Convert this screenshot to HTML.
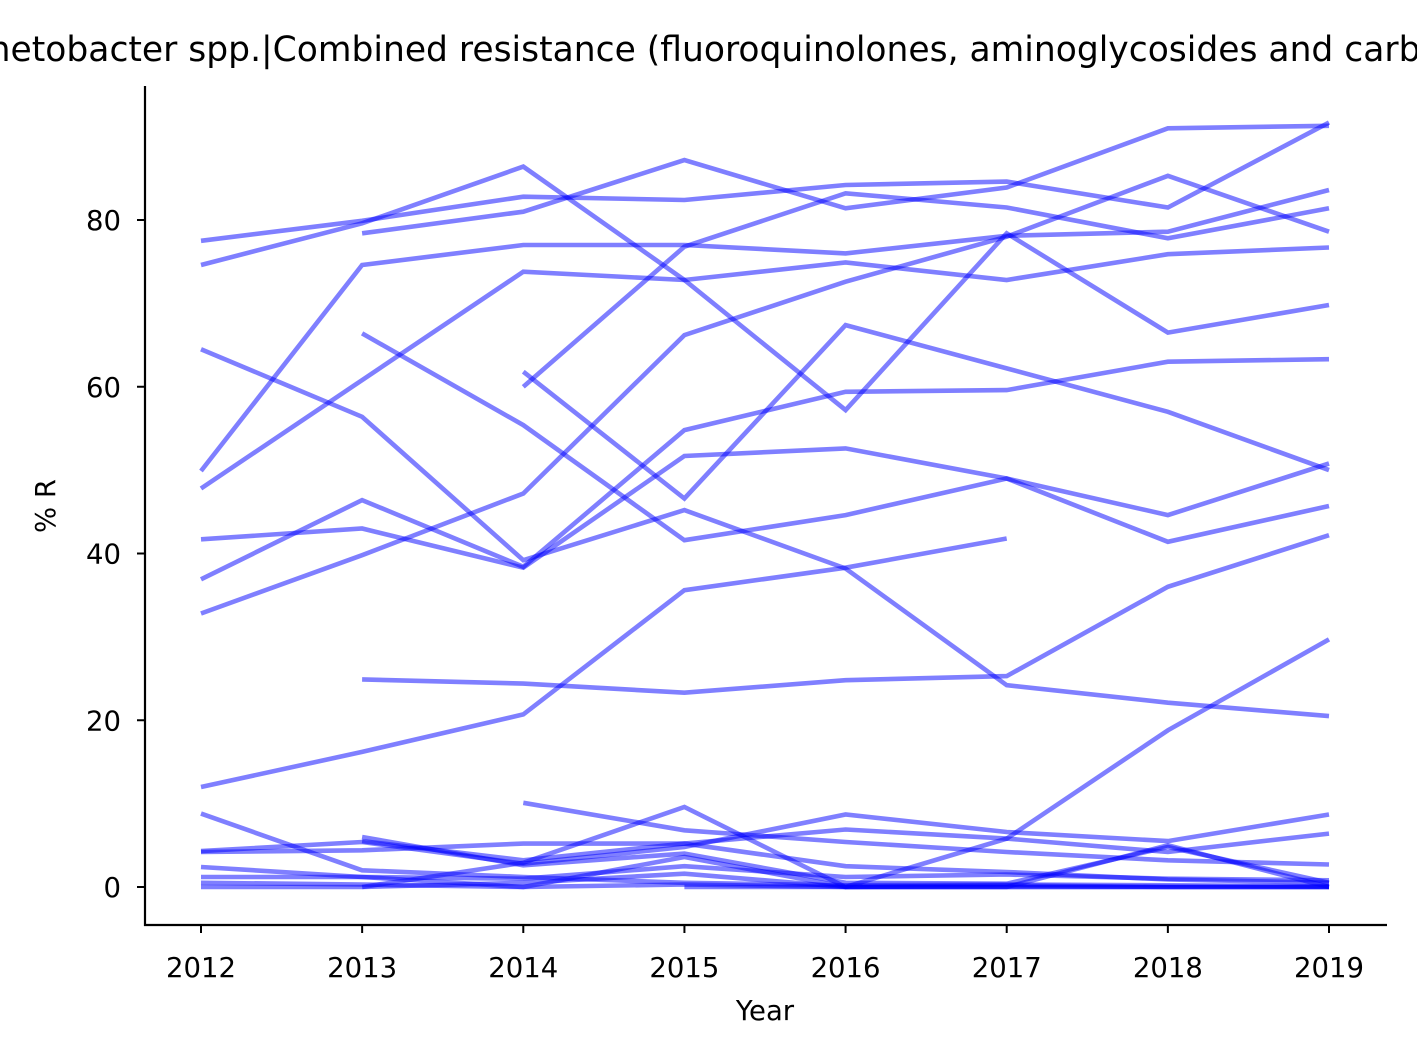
<!DOCTYPE html>
<html><head><meta charset="utf-8"><style>
html,body{margin:0;padding:0;background:#fff;width:1417px;height:1062px;overflow:hidden}
text{font-family:"DejaVu Sans","Liberation Sans",sans-serif;fill:#000}
</style></head><body>
<svg id="chart" width="1417" height="1062" viewBox="0 0 1417 1062" xmlns="http://www.w3.org/2000/svg">
<text x="765" y="61" font-size="34.5" text-anchor="middle">Acinetobacter spp.|Combined resistance (fluoroquinolones, aminoglycosides and carbapenems)</text>
<g id="lines"></g>
<g id="axes"></g>
</svg>
<script>
const years = [2012,2013,2014,2015,2016,2017,2018,2019];
const yTicks = [0,20,40,60,80];
const s1 = [77.5,79.9,82.8,82.4,84.2,84.6,81.5,91.7];
const s2 = [74.6,79.6,86.4,72.8,57.2,78.4,66.5,69.8];
const s3 = [null,78.4,81.0,87.2,81.4,83.9,91.0,91.3];
const s4 = [49.9,74.6,77.0,77.0,76.0,78.1,78.6,83.6];
const s5 = [47.8,60.8,73.8,72.8,74.9,72.8,75.9,76.7];
const s6 = [null,null,60.0,76.8,83.2,81.5,77.8,81.4];
const s7 = [32.8,39.8,47.2,66.2,72.6,78.0,85.3,78.6];
const s8 = [64.5,56.4,39.2,45.2,38.2,24.2,22.1,20.5];
const s9 = [null,66.4,55.4,41.6,44.6,49.0,41.4,45.7];
const s10 = [41.7,43.0,38.3,51.7,52.6,49.0,44.6,50.8];
const s11 = [36.9,46.4,38.4,54.8,59.4,59.6,63.0,63.3];
const s12 = [null,null,61.8,46.6,67.4,62.2,57.0,50.0];
const s13 = [12.0,16.2,20.7,35.6,38.3,41.8,null,null];
const s14 = [null,24.9,24.4,23.3,24.8,25.3,36.0,42.2];
const s15 = [0.5,0.3,0.0,0.3,0.0,5.8,18.8,29.7];
const s16 = [8.8,2.0,1.2,0.5,0.2,0.3,0.2,0.1];
const s17 = [null,null,10.1,6.8,5.4,4.2,3.2,2.7];
const s18 = [null,0.0,2.9,9.6,0.0,0.0,0.0,0.0];
const s19 = [4.3,5.4,2.8,4.8,8.7,6.6,5.5,8.7];
const s20 = [4.2,4.4,5.2,5.2,6.9,5.8,4.2,6.4];
const s21 = [null,6.0,2.6,4.0,0.5,0.4,4.8,0.5];
const s22 = [2.4,1.2,0.0,3.6,0.0,0.0,5.0,0.0];
const s23 = [1.2,1.2,1.0,2.5,1.2,1.5,1.0,0.8];
const s24 = [0.0,0.0,0.5,1.6,0.0,0.2,0.0,0.0];
const s25 = [null,null,null,0.0,0.0,0.0,0.0,0.0];
const s26 = [null,5.5,3.2,5.2,2.5,1.8,0.9,0.5];
const seriesList = [s1,s2,s3,s4,s5,s6,s7,s8,s9,s10,s11,s12,s13,s14,s15,s16,s17,s18,s19,s20,s21,s22,s23,s24,s25,s26];

const NS = "http://www.w3.org/2000/svg";
const X0 = 201, X1 = 1329, Y0 = 887, YPER = 8.3375;
function xScale(yr){ return X0 + (yr - years[0]) * (X1 - X0) / (years[years.length-1] - years[0]); }
function yScale(v){ return Y0 - v * YPER; }

const gL = document.getElementById('lines');
seriesList.forEach((s, i) => {
  let d = '', pen = false;
  s.forEach((v, j) => {
    if (v === null) { pen = false; return; }
    d += (pen ? 'L' : 'M') + xScale(years[j]).toFixed(1) + ' ' + yScale(v).toFixed(1) + ' ';
    pen = true;
  });
  const p = document.createElementNS(NS, 'path');
  p.setAttribute('d', d);
  p.setAttribute('fill', 'none');
  p.setAttribute('stroke', 'rgba(0,0,255,0.5)');
  p.setAttribute('stroke-width', '4.6');
  p.setAttribute('stroke-linejoin', 'miter');
  
  
  gL.appendChild(p);
});

const gA = document.getElementById('axes');
function mk(tag, attrs, text){
  const e = document.createElementNS(NS, tag);
  for (const k in attrs) e.setAttribute(k, attrs[k]);
  if (text !== undefined) e.textContent = text;
  gA.appendChild(e);
  return e;
}
let e;
e = mk('line', {x1:145, y1:86, x2:145, y2:926, stroke:'#000', 'stroke-width':2.2});


e = mk('line', {x1:144, y1:925, x2:1387, y2:925, stroke:'#000', 'stroke-width':2.2});


yTicks.forEach(t => {
  const y = yScale(t);
  e = mk('line', {x1:137, y1:y, x2:145, y2:y, stroke:'#000', 'stroke-width':2});
  
  
  e = mk('text', {x:121, y:y + 10, 'font-size':27.5, 'text-anchor':'end'}, String(t));
  
  
});
years.forEach(yr => {
  const x = xScale(yr);
  e = mk('line', {x1:x, y1:925, x2:x, y2:933, stroke:'#000', 'stroke-width':2});
  
  
  e = mk('text', {x:x, y:977, 'font-size':27.5, 'text-anchor':'middle'}, String(yr));
  
  
});
e = mk('text', {x:765, y:1020, 'font-size':27.5, 'text-anchor':'middle'}, 'Year');


e = mk('text', {x:0, y:0, 'font-size':27.5, 'text-anchor':'middle', transform:'translate(55,506) rotate(-90)'}, '% R');


</script>
</body></html>
